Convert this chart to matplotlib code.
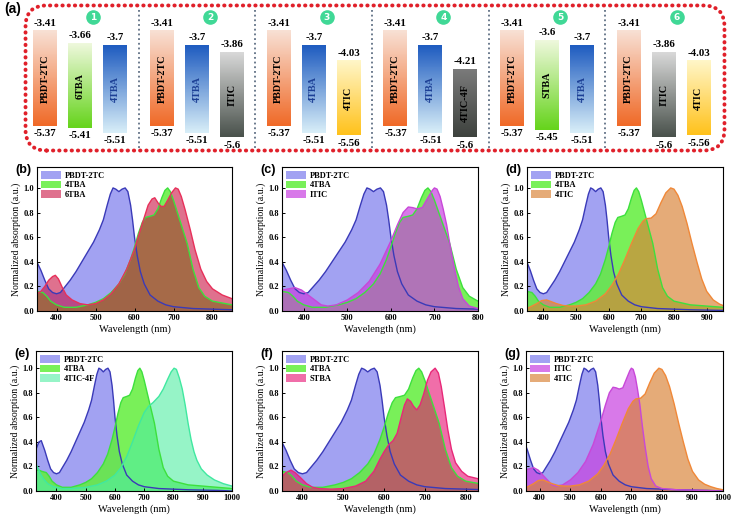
import numpy as np
import matplotlib.pyplot as plt
from matplotlib.patches import FancyBboxPatch
from matplotlib.colors import LinearSegmentedColormap

plt.rcParams['font.family'] = ['Liberation Serif', 'DejaVu Serif']
plt.rcParams['font.weight'] = 'bold'

W, H = 733, 519

# ---------- (a) energy levels ----------
group_names = [["PBDT-2TC", "6TBA", "4TBA"],
               ["PBDT-2TC", "4TBA", "ITIC"],
               ["PBDT-2TC", "4TBA", "4TIC"],
               ["PBDT-2TC", "4TBA", "4TIC-4F"],
               ["PBDT-2TC", "STBA", "4TBA"],
               ["PBDT-2TC", "ITIC", "4TIC"]]
lumo = [[-3.41, -3.66, -3.7],
        [-3.41, -3.7, -3.86],
        [-3.41, -3.7, -4.03],
        [-3.41, -3.7, -4.21],
        [-3.41, -3.6, -3.7],
        [-3.41, -3.86, -4.03]]
homo = [[-5.37, -5.41, -5.51],
        [-5.37, -5.51, -5.6],
        [-5.37, -5.51, -5.56],
        [-5.37, -5.51, -5.6],
        [-5.37, -5.45, -5.51],
        [-5.37, -5.6, -5.56]]

# gradient colours top -> bottom
bar_grad = {"PBDT-2TC": ("#f8e0d4", "#f06a28"),
            "6TBA": ("#eef8dc", "#66d41c"),
            "STBA": ("#eef8dc", "#66d41c"),
            "4TBA": ("#1f5cc0", "#d8eef8"),
            "ITIC": ("#d8d8d8", "#4a524c"),
            "4TIC": ("#fff6c8", "#ffc21c"),
            "4TIC-4F": ("#7a7a7a", "#3e423e")}
bar_txt = {"4TBA": "#1c3f95"}

# ---------- absorption spectra ----------
wl_pbdt = [330, 340, 348, 360, 370, 380, 390, 400, 410, 420, 435, 450, 465, 480, 495, 510, 520,
           530, 538, 545, 552, 560, 568, 576, 583, 590, 595, 600, 607, 615, 625, 640, 660, 680,
           700, 750, 800, 850, 950, 1000]
ab_pbdt = [0.34, 0.40, 0.41, 0.33, 0.25, 0.18, 0.15, 0.14, 0.15, 0.19, 0.25, 0.32, 0.40, 0.48,
           0.56, 0.66, 0.74, 0.86, 0.95, 1.00, 0.99, 0.97, 0.99, 1.00, 0.97, 0.86, 0.74, 0.60,
           0.45, 0.32, 0.22, 0.13, 0.08, 0.05, 0.035, 0.02, 0.015, 0.01, 0.005, 0.0]

wl_4tba = [330, 340, 350, 365, 375, 385, 400, 420, 450, 480, 500, 520, 540, 560, 575, 590, 600,
           610, 620, 628, 640, 650, 660, 670, 678, 685, 692, 700, 710, 720, 735, 750, 765, 780,
           800, 850, 900, 950, 1000]
ab_4tba = [0.17, 0.17, 0.16, 0.15, 0.12, 0.08, 0.05, 0.03, 0.03, 0.05, 0.07, 0.10, 0.15, 0.22,
           0.30, 0.42, 0.52, 0.63, 0.72, 0.76, 0.77, 0.78, 0.83, 0.92, 0.98, 1.00, 0.97, 0.90,
           0.80, 0.70, 0.55, 0.34, 0.19, 0.12, 0.08, 0.05, 0.04, 0.03, 0.02]

wl_6tba = [350, 360, 370, 380, 390, 397, 405, 415, 425, 440, 460, 480, 500, 520, 540, 560, 580,
           600, 615, 625, 635, 645, 652, 660, 668, 676, 685, 695, 705, 712, 720, 730, 743, 755,
           770, 785, 800, 825, 850]
ab_6tba = [0.14, 0.16, 0.20, 0.25, 0.28, 0.29, 0.26, 0.19, 0.13, 0.09, 0.06, 0.05, 0.06, 0.09,
           0.14, 0.22, 0.34, 0.50, 0.66, 0.76, 0.86, 0.91, 0.92, 0.88, 0.85, 0.85, 0.90, 0.96,
           1.00, 0.99, 0.93, 0.82, 0.66, 0.50, 0.34, 0.24, 0.18, 0.13, 0.10]

wl_itic = [350, 365, 380, 395, 410, 425, 440, 455, 475, 500, 525, 550, 575, 600, 615, 628, 640,
           650, 660, 672, 685, 695, 700, 706, 713, 720, 728, 736, 745, 755, 765, 780, 800, 850, 1000]
ab_itic = [0.17, 0.18, 0.19, 0.17, 0.13, 0.09, 0.05, 0.04, 0.05, 0.09, 0.15, 0.24, 0.38, 0.57,
           0.70, 0.80, 0.845, 0.84, 0.83, 0.84, 0.92, 0.98, 1.00, 0.99, 0.93, 0.83, 0.70, 0.53,
           0.36, 0.20, 0.10, 0.04, 0.02, 0.01, 0.0]

wl_4tic = [350, 365, 380, 395, 410, 425, 440, 460, 480, 500, 530, 560, 590, 610, 630, 650, 670,
           690, 705, 715, 730, 745, 760, 775, 790, 800, 812, 825, 840, 855, 870, 885, 900, 920,
           940, 960, 980, 1000]
ab_4tic = [0.02, 0.04, 0.06, 0.085, 0.09, 0.075, 0.06, 0.045, 0.04, 0.04, 0.05, 0.08, 0.14, 0.21,
           0.30, 0.42, 0.55, 0.67, 0.73, 0.75, 0.755, 0.79, 0.88, 0.96, 1.00, 0.99, 0.94, 0.85,
           0.71, 0.55, 0.40, 0.26, 0.16, 0.09, 0.055, 0.035, 0.02, 0.01]

wl_4f = [330, 338, 345, 355, 370, 390, 420, 450, 500, 540, 570, 600, 620, 640, 660, 680, 700,
         715, 730, 750, 765, 780, 792, 802, 810, 820, 830, 840, 850, 860, 870, 880, 895, 915,
         940, 970, 1000]
ab_4f = [0.22, 0.18, 0.14, 0.10, 0.06, 0.035, 0.02, 0.02, 0.03, 0.05, 0.08, 0.13, 0.19, 0.28,
         0.40, 0.53, 0.64, 0.69, 0.72, 0.77, 0.83, 0.91, 0.97, 1.00, 0.99, 0.92, 0.83, 0.70,
         0.55, 0.42, 0.32, 0.25, 0.18, 0.13, 0.09, 0.06, 0.04]

wl_stba = [350, 360, 372, 382, 395, 410, 425, 440, 470, 500, 530, 555, 575, 590, 600, 612, 622,
           632, 642, 650, 657, 665, 672, 680, 688, 697, 706, 715, 725, 733, 740, 748, 756, 765,
           775, 790, 805, 830]
ab_stba = [0.12, 0.15, 0.17, 0.15, 0.11, 0.06, 0.03, 0.02, 0.015, 0.02, 0.04, 0.08, 0.16, 0.26,
           0.32, 0.38, 0.41, 0.47, 0.60, 0.70, 0.75, 0.73, 0.69, 0.66, 0.70, 0.79, 0.90, 0.97,
           1.00, 0.96, 0.85, 0.68, 0.50, 0.34, 0.23, 0.16, 0.12, 0.10]

spectra = {"PBDT-2TC": (wl_pbdt, ab_pbdt), "4TBA": (wl_4tba, ab_4tba),
           "6TBA": (wl_6tba, ab_6tba), "ITIC": (wl_itic, ab_itic),
           "4TIC": (wl_4tic, ab_4tic), "4TIC-4F": (wl_4f, ab_4f),
           "STBA": (wl_stba, ab_stba)}

# fill colour, alpha, edge colour
style = {"PBDT-2TC": ("#6464ea", 0.6, "#3a3ab8"),
         "4TBA": ("#62ee3c", 0.85, "#3de03d"),
         "6TBA": ("#c80a3c", 0.58, "#e8305a"),
         "ITIC": ("#c840e0", 0.7, "#c848d8"),
         "4TIC": ("#d98438", 0.68, "#f08838"),
         "4TIC-4F": ("#50eea3", 0.6, "#40e8a0"),
         "STBA": ("#e60d71", 0.6, "#e82878")}

panels = [("(b)", ["PBDT-2TC", "4TBA", "6TBA"], (350, 850), [400, 500, 600, 700, 800]),
          ("(c)", ["PBDT-2TC", "4TBA", "ITIC"], (350, 800), [400, 500, 600, 700, 800]),
          ("(d)", ["PBDT-2TC", "4TBA", "4TIC"], (350, 950), [400, 500, 600, 700, 800, 900]),
          ("(e)", ["PBDT-2TC", "4TBA", "4TIC-4F"], (330, 1000), [400, 500, 600, 700, 800, 900, 1000]),
          ("(f)", ["PBDT-2TC", "4TBA", "STBA"], (350, 830), [400, 500, 600, 700, 800]),
          ("(g)", ["PBDT-2TC", "ITIC", "4TIC"], (355, 1000), [400, 500, 600, 700, 800, 900, 1000])]

# axes boxes in pixels: left, top, right, bottom
boxes = [(37, 167, 232, 311), (282, 167, 478, 311), (527, 167, 723, 311),
         (36, 351, 232, 491), (282, 351, 478, 491), (526, 351, 723, 491)]
ytops = [1.17, 1.17, 1.17, 1.14, 1.14, 1.14]


def px_axes(fig, l, t, r, b):
    return fig.add_axes([l / W, 1 - b / H, (r - l) / W, (b - t) / H])


fig = plt.figure(figsize=(W / 100, H / 100), dpi=100)

# ---------- panel (a) ----------
ax = px_axes(fig, 22, 4, 728, 152)
ax.set_axis_off()
frame = FancyBboxPatch((0.005, 0.01), 0.99, 0.98, boxstyle="round,pad=0,rounding_size=0.03",
                       transform=ax.transAxes, fill=False, edgecolor="#e0202a",
                       linewidth=2.8, linestyle=(0, (0.1, 1.5)), mutation_aspect=706 / 148,
                       clip_on=False)
frame.set_capstyle("round")
ax.add_patch(frame)

step, bw = 0.3, 0.205
for i, names in enumerate(group_names):
    for j, name in enumerate(names):
        xc = i + (j - 1) * step
        top, bot = lumo[i][j], homo[i][j]
        cmap = LinearSegmentedColormap.from_list(name, bar_grad[name])
        ax.imshow(np.linspace(0, 1, 64).reshape(-1, 1), cmap=cmap, aspect="auto",
                  extent=[xc - bw / 2, xc + bw / 2, bot, top], zorder=2)
        ax.text(xc, (top + bot) / 2, name, rotation=90, ha="center", va="center",
                fontsize=7.3, color=bar_txt.get(name, "black"), zorder=3)
        ax.text(xc, top + 0.07, f"{top:g}", ha="center", va="bottom", fontsize=7.8)
        ax.text(xc, bot - 0.07, f"{bot:g}", ha="center", va="top", fontsize=7.8)
    ax.scatter(i + 0.11, -3.13, s=90, color="#40d896", zorder=3)
    ax.text(i + 0.11, -3.135, str(i + 1), ha="center", va="center", fontsize=6.5,
            color="white", family="DejaVu Sans", zorder=4)
    if i > 0:
        ax.plot([i - 0.5, i - 0.5], [-2.98, -5.85], ls=(0, (1, 1.6)), lw=1.3, color="#5f6f84")
ax.set_xlim(-0.5, 5.55)
ax.set_ylim(-5.906, -2.853)
fig.text(4 / W, 1 - 9 / H, "(a)", fontsize=10, family="Liberation Sans", weight="bold",
         va="center", ha="left")

# ---------- panels (b)-(g) ----------
for (lab, mats, xl, xt), (l, t, r, b), yt in zip(panels, boxes, ytops):
    ax = px_axes(fig, l, t, r, b)
    for m in mats:
        wl, ab = spectra[m]
        fc, al, ec = style[m]
        ax.fill_between(wl, 0, ab, facecolor=fc, alpha=al, linewidth=0, label=m)
        ax.plot(wl, ab, color=ec, lw=1.0)
    ax.set_xlim(*xl)
    ax.set_ylim(0, yt)
    ax.set_xticks(xt)
    ax.set_yticks([0, 0.2, 0.4, 0.6, 0.8, 1.0])
    ax.set_yticklabels([f"{v:.1f}" for v in [0, 0.2, 0.4, 0.6, 0.8, 1.0]])
    ax.tick_params(direction="in", length=2.5, width=0.7, labelsize=6, pad=2)
    for s in ax.spines.values():
        s.set_linewidth(0.8)
    ax.set_xlabel("Wavelength (nm)", fontsize=7.5, labelpad=2)
    ax.set_ylabel("Normalized absorption (a.u.)", fontsize=7, labelpad=2)
    ax.legend(loc="upper left", frameon=False, fontsize=6, handlelength=2.4,
              handleheight=1.0, labelspacing=0.12, handletextpad=0.4,
              borderaxespad=0.2, borderpad=0.3)
    fig.text((l - 22) / W, 1 - (t + 3) / H, lab, fontsize=9, family="Liberation Sans",
             weight="bold", va="center", ha="left")

fig.savefig("out.png", dpi=100)
